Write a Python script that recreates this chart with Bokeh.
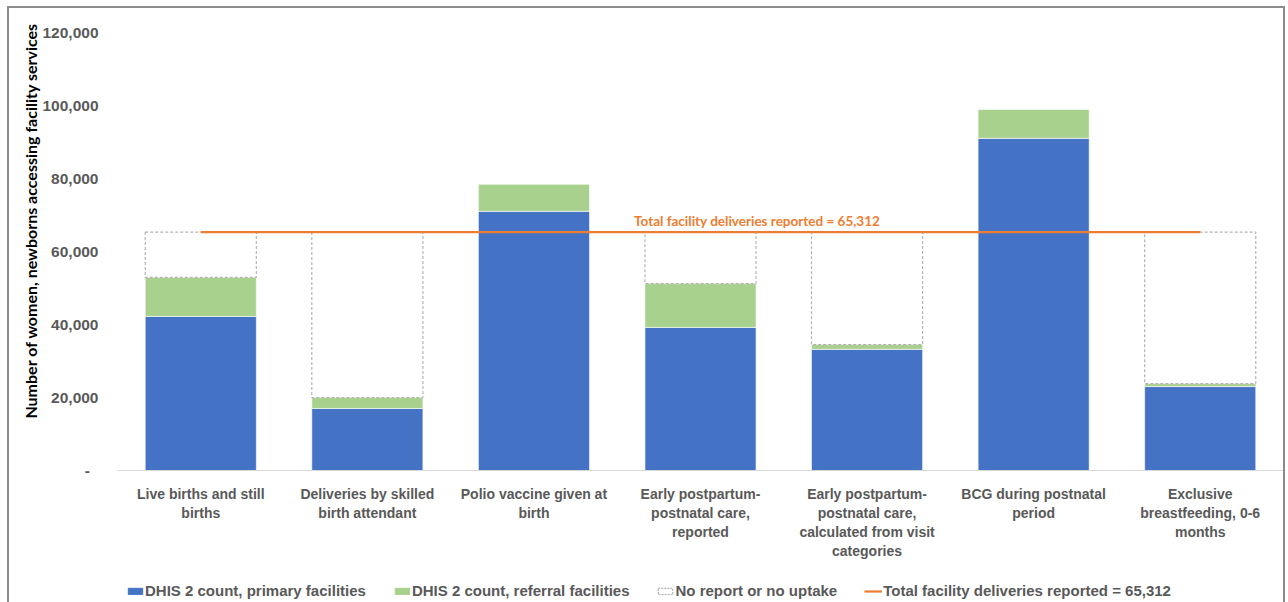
from bokeh.plotting import figure
from bokeh.layouts import column
from bokeh.models import (ColumnDataSource, FixedTicker, NumeralTickFormatter,
                          Label, Legend, LegendItem, Title, Range1d)
from bokeh.embed import file_html
from bokeh.resources import INLINE

# ---- data -------------------------------------------------------------
categories = [
    "Live births and still\nbirths",
    "Deliveries by skilled\nbirth attendant",
    "Polio vaccine given at\nbirth",
    "Early postpartum-\npostnatal care,\nreported",
    "Early postpartum-\npostnatal care,\ncalculated from visit\ncategories",
    "BCG during postnatal\nperiod",
    "Exclusive\nbreastfeeding, 0-6\nmonths",
]
primary = [42200, 17000, 71000, 39200, 33200, 91000, 23000]
referral = [10700, 3000, 7400, 12000, 1300, 7900, 800]
total_deliveries = 65312
y_ticks = [0, 20000, 40000, 60000, 80000, 100000, 120000]

series_names = ["DHIS 2 count, primary facilities",
                "DHIS 2 count, referral facilities",
                "No report or no uptake"]
line_name = "Total facility deliveries reported = 65,312"
y_title = "Number of women, newborns accessing facility services"

# ---- derived ----------------------------------------------------------
reported = [a + b for a, b in zip(primary, referral)]
gap_cats = [c for c, r in zip(categories, reported) if r < total_deliveries]
gap_bottom = [r for r in reported if r < total_deliveries]
gap_top = [total_deliveries] * len(gap_cats)

BLUE = "#4472C4"
GREEN = "#A9D18E"
ORANGE = "#ED7D31"
GREY_TXT = "#595959"
GAP_LINE = "#b4b4b4"
FONT = "Liberation Sans"
HUMANIST = "Lato"

W = 1274

# ---- main chart -------------------------------------------------------
p = figure(x_range=categories, y_range=(0, 120000),
           width=W, height=556,
           output_backend="svg", toolbar_location=None,
           min_border_left=108, min_border_right=0,
           min_border_top=24, min_border_bottom=94)
p.outline_line_color = None
p.xgrid.grid_line_color = None
p.ygrid.grid_line_color = None

src = ColumnDataSource(dict(cat=categories, primary=primary, referral=referral))
p.vbar_stack(["primary", "referral"], x="cat", width=0.667,
             color=[BLUE, GREEN], line_color="white", line_width=0.6,
             source=src)

p.vbar(x=gap_cats, bottom=gap_bottom, top=gap_top, width=0.667,
       fill_color=None, line_color=GAP_LINE, line_width=1.2, line_dash="3 2")

p.line(x=[categories[0], categories[-1]],
       y=[total_deliveries, total_deliveries],
       line_color=ORANGE, line_width=2.2)

p.add_layout(Label(x=3.84, y=total_deliveries, y_offset=3,
                   text=line_name, text_align="center",
                   text_baseline="bottom", text_color=ORANGE,
                   text_font=HUMANIST, text_font_style="bold",
                   text_font_size="13.5px"))

# y-axis title on the left side, aligned toward the top of the frame
p.add_layout(Title(text=y_title, align="right", offset=-10,
                   text_font=HUMANIST, text_font_style="bold",
                   text_font_size="16px", text_color="black",
                   standoff=0), "left")

xa = p.xaxis[0]
xa.axis_line_color = "#d9d9d9"
xa.axis_line_width = 1.2
xa.major_tick_line_color = None
xa.minor_tick_line_color = None
xa.major_label_standoff = 9
xa.major_label_text_font = FONT
xa.major_label_text_font_style = "bold"
xa.major_label_text_font_size = "14px"
xa.major_label_text_color = GREY_TXT
xa.major_label_text_align = "center"

ya = p.yaxis[0]
ya.ticker = FixedTicker(ticks=y_ticks)
ya.formatter = NumeralTickFormatter(format="0,0")
ya.major_label_overrides = {0: "-\u2007"}
ya.axis_line_color = None
ya.major_tick_line_color = None
ya.minor_tick_line_color = None
ya.major_label_standoff = 13
ya.major_label_text_font = FONT
ya.major_label_text_font_style = "bold"
ya.major_label_text_font_size = "15.5px"
ya.major_label_text_color = GREY_TXT

# ---- legend strip -----------------------------------------------------
# key glyphs sit far outside the strip's visible range; only their legend
# swatches are drawn
lg = figure(x_range=Range1d(0, 1), y_range=Range1d(0, 1),
            width=W, height=38, output_backend="svg", toolbar_location=None,
            x_axis_location=None, y_axis_location=None, min_border=0)
lg.grid.visible = False
lg.outline_line_color = None

k_primary = lg.vbar(x=[50], top=[60], bottom=[50], width=0.1,
                    fill_color=BLUE, line_color=BLUE)
k_referral = lg.vbar(x=[50], top=[60], bottom=[50], width=0.1,
                     fill_color=GREEN, line_color=GREEN)
k_gap = lg.vbar(x=[50], top=[60], bottom=[50], width=0.1, fill_color=None,
                line_color=GAP_LINE, line_width=1.2, line_dash="2 1")
k_line = lg.line(x=[50, 51], y=[55, 55], line_color=ORANGE, line_width=2.2)

legend = Legend(items=[
    LegendItem(label=series_names[0], renderers=[k_primary]),
    LegendItem(label=series_names[1], renderers=[k_referral]),
    LegendItem(label=series_names[2], renderers=[k_gap]),
    LegendItem(label=line_name, renderers=[k_line]),
], orientation="horizontal", location=(9, 3))
legend.border_line_color = None
legend.background_fill_alpha = 0
legend.padding = 0
legend.margin = 0
legend.spacing = 27
legend.glyph_width = 18
legend.glyph_height = 8
legend.label_standoff = 1
legend.label_text_font = FONT
legend.label_text_font_style = "bold"
legend.label_text_font_size = "15px"
legend.label_text_color = GREY_TXT
lg.add_layout(legend)

page = column(p, lg, spacing=0)
page.margin = (6, 0, 0, 7)
page.styles = {"border-top": "2px solid #8c8c8c",
               "border-left": "2px solid #8c8c8c",
               "border-right": "2px solid #8c8c8c"}

open("out.html", "w").write(file_html(page, INLINE))
